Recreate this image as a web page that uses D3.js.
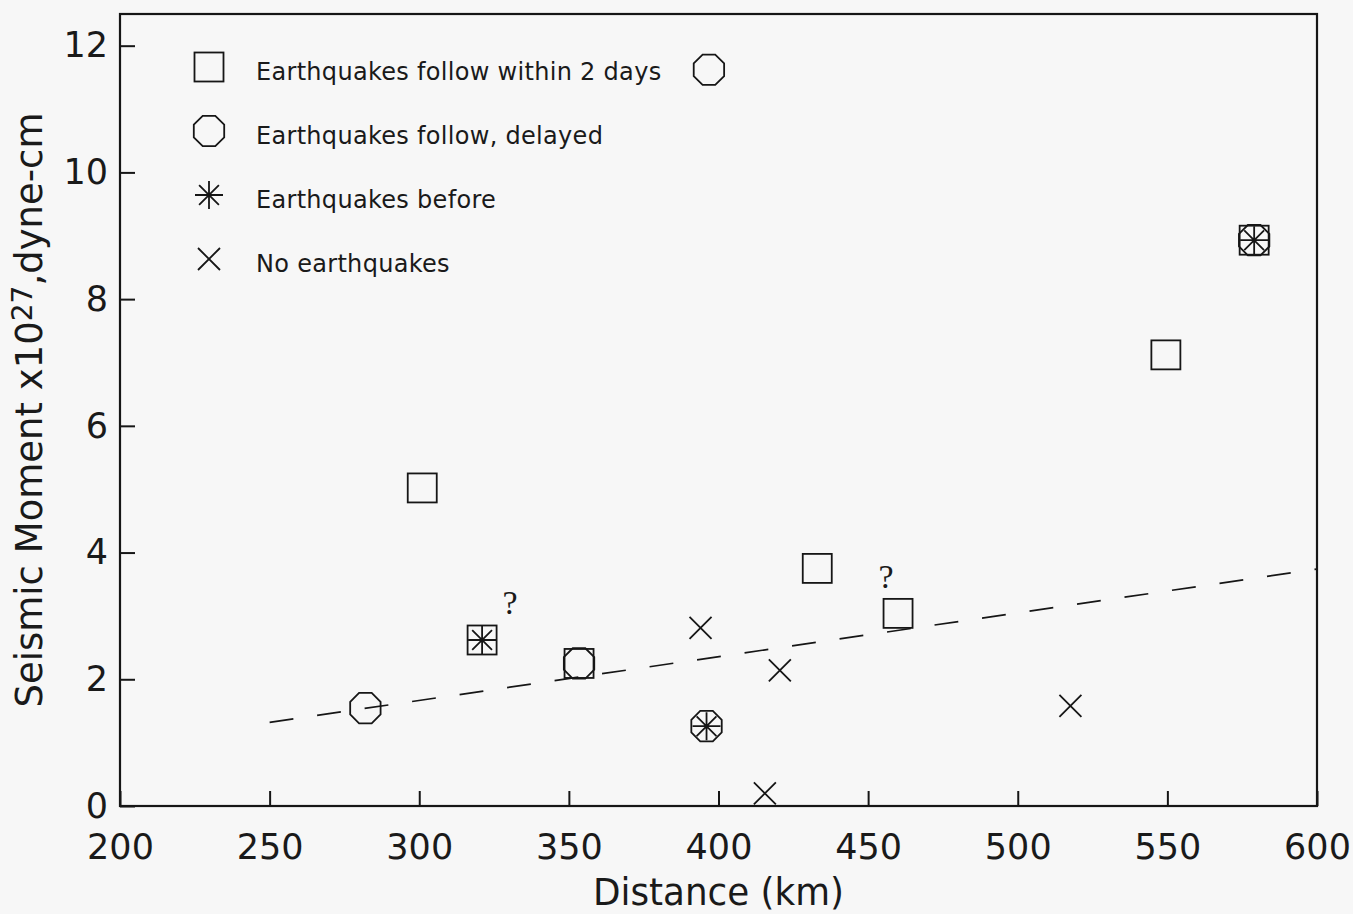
<!DOCTYPE html>
<html>
<head>
<meta charset="utf-8">
<script src="https://cdn.jsdelivr.net/npm/d3@7"></script>
<style>
  html, body { margin: 0; padding: 0; background: #f7f7f7; }
  svg { display: block; }
  text { font-family: "DejaVu Sans", sans-serif; fill: #1a1a1a; }
</style>
</head>
<body>
<svg id="chart" width="1353" height="914"></svg>
<script>
// ---- data ----
// distance in km, seismic moment in units of 1e27 dyne-cm
var within2days = [[301, 5.02], [321, 2.62], [353.4, 2.25], [433, 3.75], [460, 3.04], [549.5, 7.12], [579, 8.93]];
var delayed = [[282, 1.545], [353.4, 2.25], [396, 1.26], [396.8, 11.62], [579, 8.93]];
var before = [[321, 2.62], [396, 1.26], [579, 8.93]];
var noQuakes = [[394, 2.81], [420.5, 2.14], [415.5, 0.2], [517.6, 1.58]];
var threshold = [[250, 1.32], [600, 3.74]];
var questionMarks = [[330.3, 3.03], [456, 3.44]];

var xLabels = [200, 250, 300, 350, 400, 450, 500, 550, 600];
var yLabels = [0, 2, 4, 6, 8, 10, 12];
var legendItems = [
  { type: "square", label: "Earthquakes follow within 2 days" },
  { type: "octagon", label: "Earthquakes follow, delayed" },
  { type: "star", label: "Earthquakes before" },
  { type: "cross", label: "No earthquakes" }
];

var svg = d3.select("#chart");
var ink = "#161616";

var x = d3.scaleLinear().domain([200, 600]).range([120, 1317]);
var y = d3.scaleLinear().domain([0, 12.5]).range([806, 14]);

// draws one symbol centred at 0,0
function symbol(g, type) {
  if (type == "square") {
    g.append("rect").attr("x", -14.5).attr("y", -14.5).attr("width", 29).attr("height", 29);
  } else if (type == "octagon") {
    var r = 15.2 / Math.cos(Math.PI / 8);
    var pts = d3.range(8).map(function (k) {
      var a = Math.PI / 8 + k * Math.PI / 4;
      return [r * Math.cos(a), r * Math.sin(a)];
    });
    g.append("polygon").attr("points", pts.map(function (p) { return p.join(","); }).join(" "));
  } else if (type == "star") {
    var s = 14;
    var d = s * Math.SQRT1_2;
    g.append("path").attr("d",
      "M" + (-s) + ",0L" + s + ",0M0," + (-s) + "L0," + s +
      "M" + (-d) + "," + (-d) + "L" + d + "," + d +
      "M" + (-d) + "," + d + "L" + d + "," + (-d));
  } else if (type == "cross") {
    var c = 11;
    g.append("path").attr("d",
      "M" + (-c) + "," + (-c) + "L" + c + "," + c + "M" + (-c) + "," + c + "L" + c + "," + (-c));
  }
}

function styleMarks(sel) {
  sel.selectAll("rect, polygon, path")
    .attr("fill", "none")
    .attr("stroke", ink)
    .attr("stroke-width", 1.8);
}

// ---- axes ----
var xAxis = d3.axisBottom(x).tickValues(xLabels).tickSizeInner(-15).tickSizeOuter(0).tickPadding(28)
  .tickFormat(d3.format("d"));
var yAxis = d3.axisLeft(y).tickValues(yLabels).tickSizeInner(-15).tickSizeOuter(0).tickPadding(12)
  .tickFormat(d3.format("d"));

var gx = svg.append("g").attr("transform", "translate(0,806)").call(xAxis);
var gy = svg.append("g").attr("transform", "translate(120,0)").call(yAxis);
[gx, gy].forEach(function (g) {
  g.select(".domain").remove();
  g.selectAll(".tick line").attr("stroke", ink).attr("stroke-width", 2);
  g.selectAll(".tick text").attr("font-size", 35).attr("fill", ink)
    .style("font-family", "'DejaVu Sans', sans-serif");
});

// frame
svg.append("rect")
  .attr("x", x(200)).attr("y", y(12.5))
  .attr("width", x(600) - x(200)).attr("height", y(0) - y(12.5))
  .attr("fill", "none").attr("stroke", ink).attr("stroke-width", 2.2);

// axis titles
svg.append("text")
  .attr("x", (x(200) + x(600)) / 2).attr("y", 905)
  .attr("text-anchor", "middle").attr("font-size", 37)
  .attr("textLength", 251).attr("lengthAdjust", "spacingAndGlyphs")
  .text("Distance (km)");

var yt = svg.append("text")
  .attr("transform", "translate(42," + ((y(0) + y(12.5)) / 2) + ") rotate(-90)")
  .attr("text-anchor", "middle").attr("font-size", 37);
yt.append("tspan").text("Seismic Moment x10");
yt.append("tspan").attr("font-size", 28).attr("dy", -10).text("27");
yt.append("tspan").attr("dy", 10).text(",dyne-cm");

// ---- dashed fit line ----
svg.append("path")
  .datum(threshold)
  .attr("d", d3.line().x(function (d) { return x(d[0]); }).y(function (d) { return y(d[1]); }))
  .attr("fill", "none").attr("stroke", ink).attr("stroke-width", 1.7)
  .attr("stroke-dasharray", "24,24");

// ---- points ----
function plotSeries(data, type) {
  var g = svg.append("g").selectAll("g").data(data).enter().append("g")
    .attr("transform", function (d) { return "translate(" + x(d[0]) + "," + y(d[1]) + ")"; });
  g.each(function () { symbol(d3.select(this), type); });
  styleMarks(g);
}
plotSeries(within2days, "square");
plotSeries(delayed, "octagon");
plotSeries(before, "star");
plotSeries(noQuakes, "cross");

svg.append("g").selectAll("text").data(questionMarks).enter().append("text")
  .attr("x", function (d) { return x(d[0]); })
  .attr("y", function (d) { return y(d[1]); })
  .attr("text-anchor", "middle")
  .attr("font-size", 34)
  .style("font-family", "'Liberation Serif', serif")
  .text("?");

// ---- legend ----
var lg = svg.append("g").selectAll("g").data(legendItems).enter().append("g")
  .attr("transform", function (d, i) { return "translate(209," + (67 + i * 64) + ")"; });
lg.each(function (d) { symbol(d3.select(this), d.type); });
styleMarks(lg);
lg.append("text")
  .attr("x", 47).attr("y", 13)
  .attr("font-size", 24)
  .attr("letter-spacing", 0.3)
  .text(function (d) { return d.label; });
</script>
</body>
</html>
